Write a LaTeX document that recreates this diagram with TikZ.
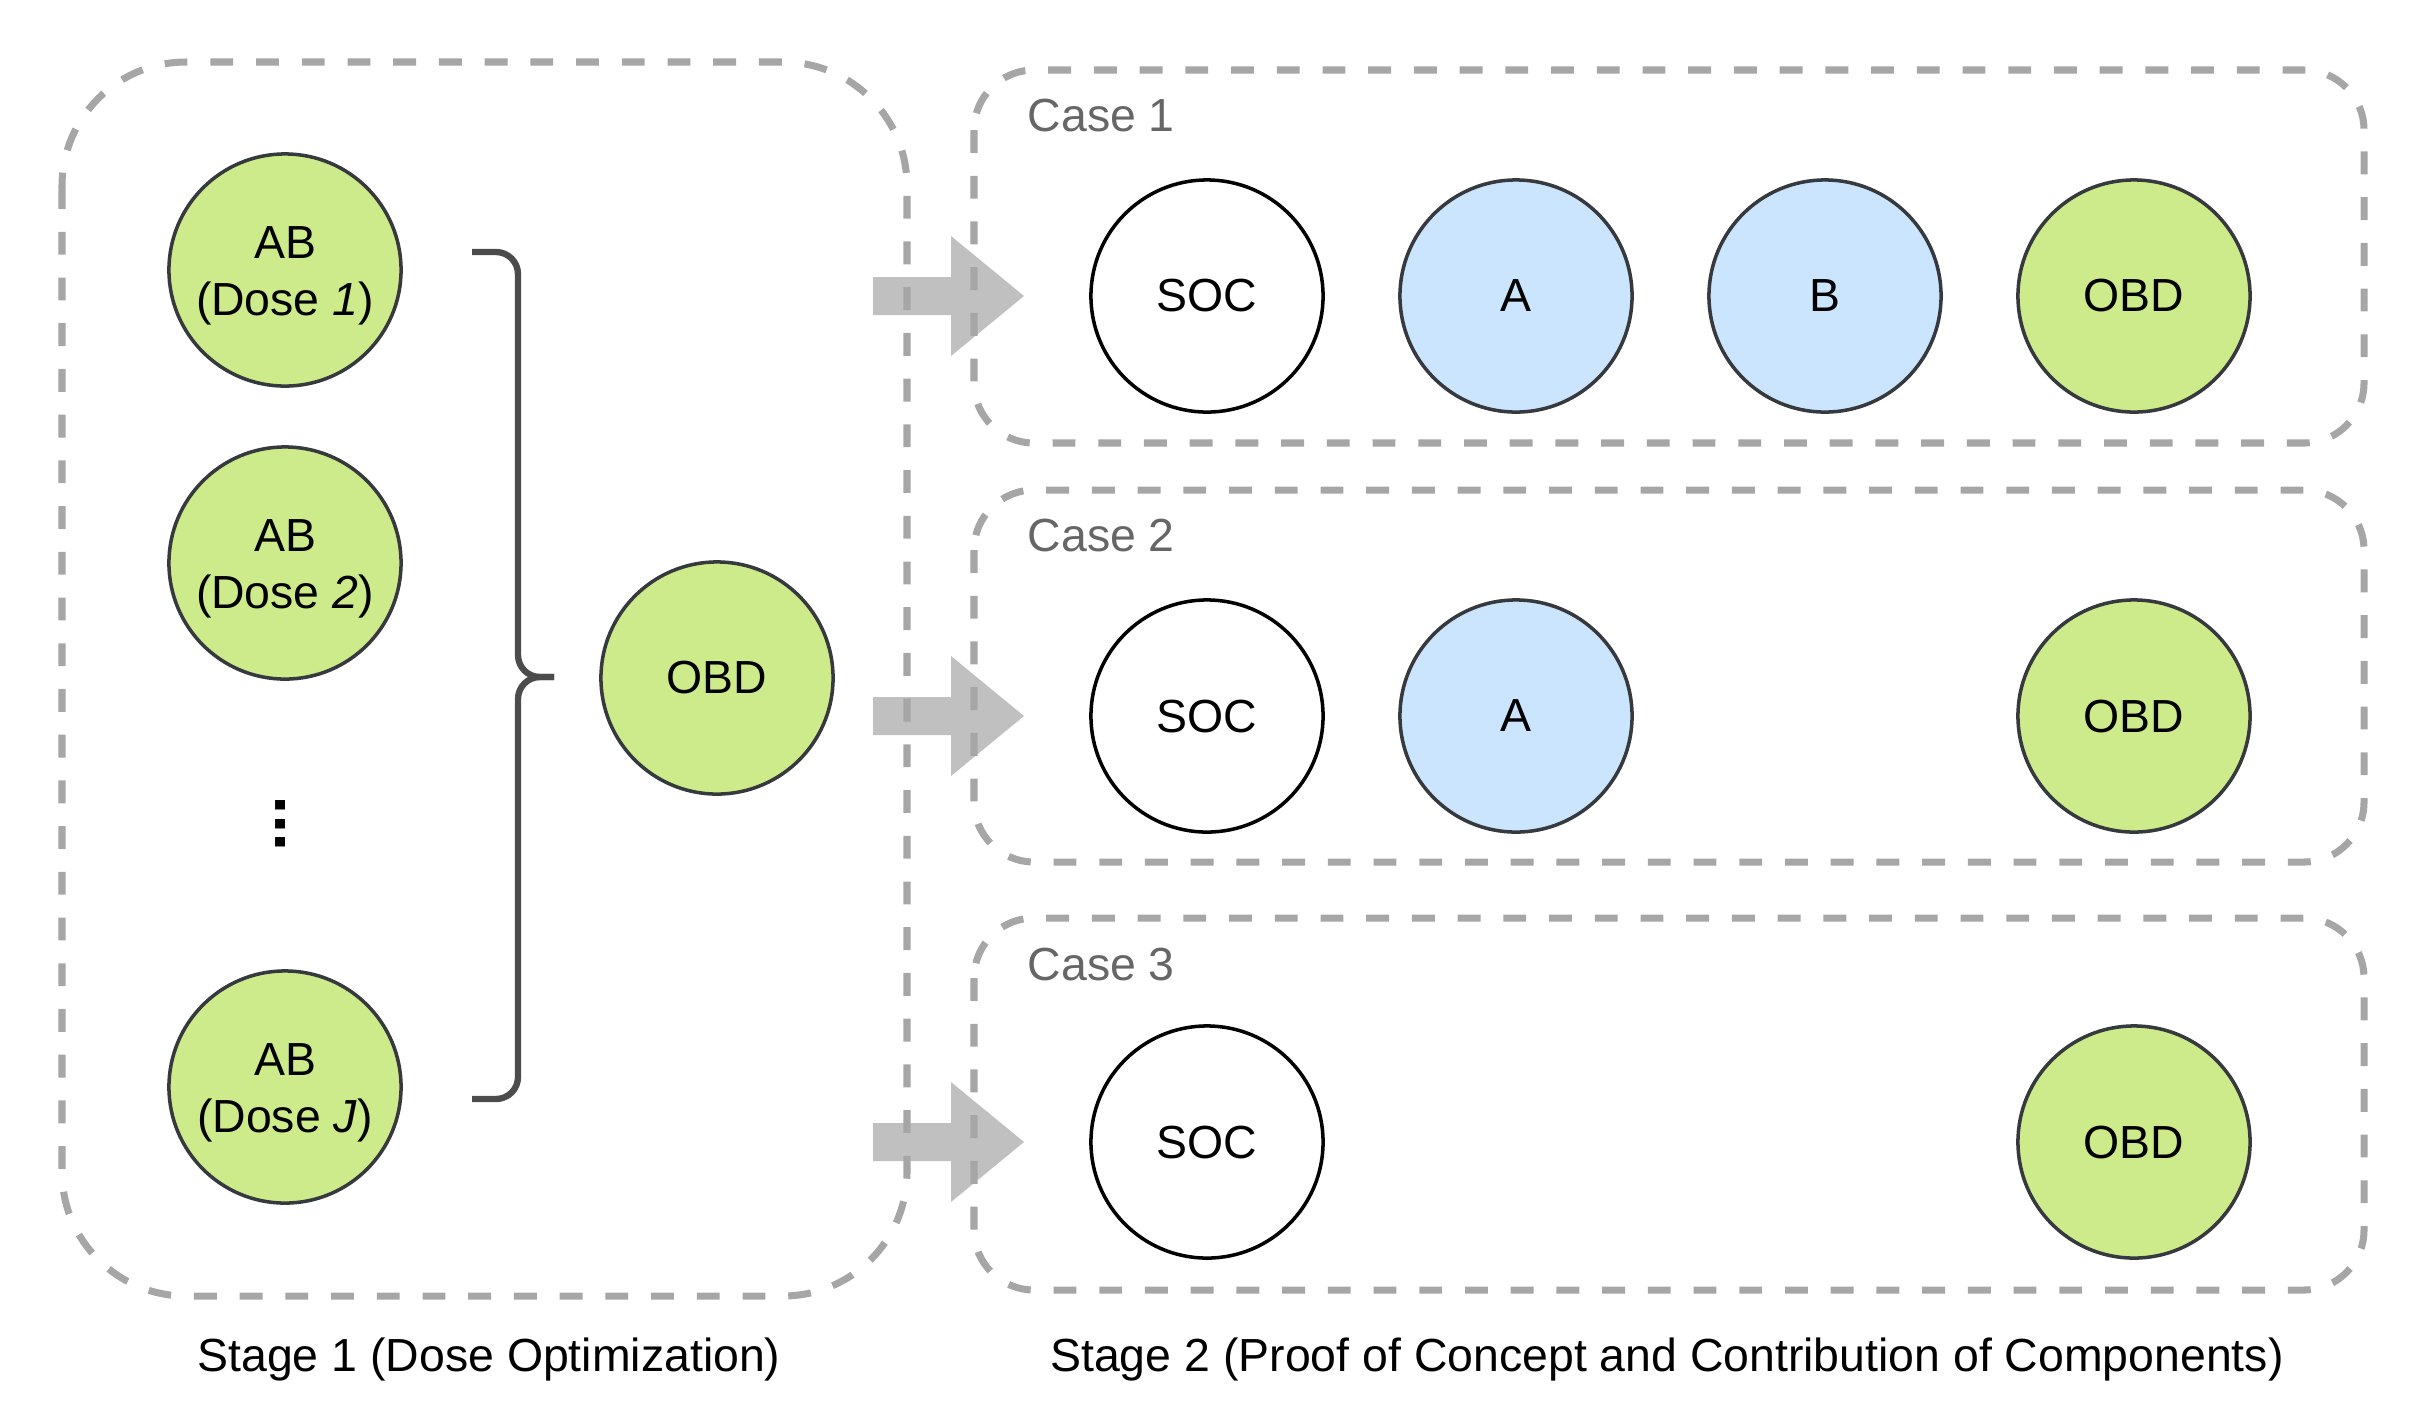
\documentclass[tikz,border=0pt]{standalone}
\usepackage{fontspec}
\setmainfont{Liberation Sans}
\definecolor{dosegreen}{HTML}{CDEB8B}
\definecolor{armblue}{HTML}{CCE5FF}
\definecolor{rimgray}{HTML}{36393D}
\definecolor{boxgray}{HTML}{A6A6A6}
\definecolor{arrowgray}{HTML}{C0C0C0}
\tikzset{
  stagebox/.style={draw=boxgray,line width=2pt,dash pattern=on 6.5pt off 6.5pt,rounded corners=1.24cm},
  casebox/.style={stagebox,rounded corners=0.6cm},
  armnode/.style={circle,draw=black,line width=1pt,minimum size=2.32cm,inner sep=0pt,align=center},
  dosenode/.style={armnode,draw=rimgray,fill=dosegreen},
  compnode/.style={armnode,draw=rimgray,fill=armblue},
  abnode/.style={dosenode,label={[align=center,yshift=-0.06cm]center:#1}},
  caselabel/.style={anchor=west,inner sep=0pt,text=black!60},
  stagelabel/.style={anchor=base,inner sep=0pt},
  fatarrow/.style={fill=arrowgray},
  bracket/.style={draw=black!70,line width=1.8pt,rounded corners=0.22cm},
  every picture/.style={font=\fontsize{13.2}{16.2}\selectfont}
}
\begin{document}
\begin{tikzpicture}[x=0.01cm,y=-0.01cm]
  \useasboundingbox (0,0) rectangle (2424,1408);
  \fill[fatarrow] (873,277)--(951,277)--(951,236)--(1024,296)--(951,356)--(951,315)--(873,315)--cycle;
  \fill[fatarrow] (873,697)--(951,697)--(951,656)--(1024,716)--(951,776)--(951,735)--(873,735)--cycle;
  \fill[fatarrow] (873,1123)--(951,1123)--(951,1082)--(1024,1142)--(951,1202)--(951,1161)--(873,1161)--cycle;
  \draw[stagebox] (62,62) rectangle (907,1296);
  \draw[casebox] (974,70) rectangle (2364,443);
  \draw[casebox] (974,490) rectangle (2364,862);
  \draw[casebox] (974,918) rectangle (2364,1290);
  % stage 1
  \node[abnode={AB\\(Dose \textit{1})}] (dose1) at (285,270) {};
  \node[abnode={AB\\(Dose \textit{2})}] (dose2) at (285,563) {};
  \node[font=\fontsize{19}{19}\selectfont\bfseries] (dots) at (281,824) {\rotatebox{90}{...}};
  \node[abnode={AB\\(Dose \textit{J})}] (doseJ) at (285,1087) {};
  \node[dosenode] (obd0) at (717,678) {OBD};
  \coordinate (brtop) at (472,252);
  \coordinate (brtip) at (554,677);
  \coordinate (brbot) at (472,1099);
  \draw[bracket] (brtop)--(518,252)--(518,677)--(brtip);
  \draw[bracket] (brtip)--(518,677)--(518,1099)--(brbot);
  % stage 2
  \node[caselabel] (case1) at (1027,116) {Case 1};
  \node[caselabel] (case2) at (1027,536) {Case 2};
  \node[caselabel] (case3) at (1027,964) {Case 3};
  \node[armnode] (soc1) at (1207,296) {SOC};
  \node[compnode] (a1) at (1516,296) {A};
  \node[compnode] (b1) at (1825,296) {B};
  \node[dosenode] (obd1) at (2134,296) {OBD};
  \node[armnode] (soc2) at (1207,716) {SOC};
  \node[compnode] (a2) at (1516,716) {A};
  \node[dosenode] (obd2) at (2134,716) {OBD};
  \node[armnode] (soc3) at (1207,1142) {SOC};
  \node[dosenode] (obd3) at (2134,1142) {OBD};
  \node[stagelabel] (stage1) at (489,1371) {Stage 1 (Dose Optimization)};
  \node[stagelabel] (stage2) at (1667,1371) {Stage 2 (Proof of Concept and Contribution of Components)};
\end{tikzpicture}
\end{document}
